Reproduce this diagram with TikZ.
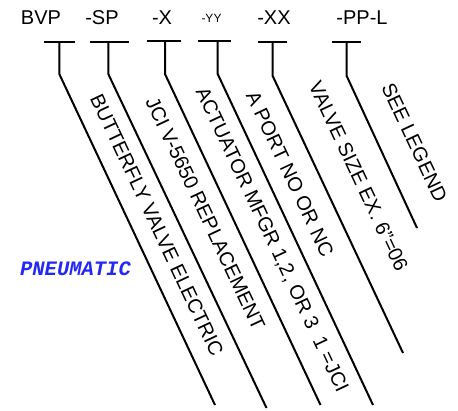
\documentclass[tikz,border=0pt]{standalone}
\usepackage{fontspec}
\setmainfont{Liberation Sans}
\newfontfamily\monob{Liberation Mono}
\begin{document}
\begin{tikzpicture}[x=1pt,y=-1pt,
  code/.style={font=\fontsize{20}{22}\selectfont,anchor=base,inner sep=0pt},
  smallcode/.style={font=\fontsize{12}{13}\selectfont,anchor=base,inner sep=0pt},
  desc/.style={font=\fontsize{20}{22}\selectfont,rotate=-64.8,inner sep=0pt,anchor=center},
  leader/.style={line width=2pt},
  pneu/.style={font=\monob\bfseries\itshape\fontsize{20.5}{22}\selectfont,text=pblue,inner sep=0pt}]
\definecolor{pblue}{RGB}{35,40,245}
\useasboundingbox (0,0) rectangle (458,410);
% top code labels
\node[code] (lBVP) at (41,24.5) {BVP};
\node[code] (lSP) at (102,24.5) {-SP};
\node[code] (lX) at (162,24.5) {-X};
\node[smallcode] (lYY) at (211.5,22) {-YY};
\node[code] (lXX) at (274,24.5) {-XX};
\node[code] (lPPL) at (362,24.5) {-PP-L};
% T bars, knees, ends
\coordinate (a1) at (44,41.5);  \coordinate (b1) at (75,41.5);
\coordinate (t1) at (59.3,41.5); \coordinate (k1) at (59.3,74); \coordinate (e1) at (215,405);
\coordinate (a2) at (90,41.5);  \coordinate (b2) at (129,41.5);
\coordinate (t2) at (108.3,41.5); \coordinate (k2) at (108.3,74); \coordinate (e2) at (266.5,408);
\coordinate (a3) at (147,40.7);  \coordinate (b3) at (181,40.7);
\coordinate (t3) at (165,40.7); \coordinate (k3) at (165,74); \coordinate (e3) at (320.5,405);
\coordinate (a4) at (198,41);  \coordinate (b4) at (231,41);
\coordinate (t4) at (217.7,41); \coordinate (k4) at (217.7,74); \coordinate (e4) at (373,405);
\coordinate (a5) at (258,41.5);  \coordinate (b5) at (287,41.5);
\coordinate (t5) at (272.7,41.5); \coordinate (k5) at (272.7,76); \coordinate (e5) at (403,353);
\coordinate (a6) at (332,41.5);  \coordinate (b6) at (361,41.5);
\coordinate (t6) at (346.7,41.5); \coordinate (k6) at (346.7,76); \coordinate (e6) at (417,228);
\foreach \i in {1,...,6}{
  \draw[leader] (a\i) -- (b\i);
  \draw[leader] (t\i) -- (k\i) -- (e\i);
}
% descriptions
\node[desc] (d1) at (157,225) {BUTTERFLY VALVE ELECTRIC};
\node[desc] (d2) at (205.5,213.5) {JCI V-5650 REPLACEMENT};
\node[desc] (d3) at (271.5,240) {ACTUATOR MFGR 1,2, OR 3\ \ 1 =JCI};
\node[desc] (d4) at (290,174) {A PORT NO OR NC};
\node[desc] (d5) at (358.5,176.5) {VALVE SIZE EX. 6''=06};
\node[desc] (d6) at (414.5,142.5) {SEE LEGEND};
\node[pneu] (pn) at (75.5,269) {PNEUMATIC};
\end{tikzpicture}
\end{document}
